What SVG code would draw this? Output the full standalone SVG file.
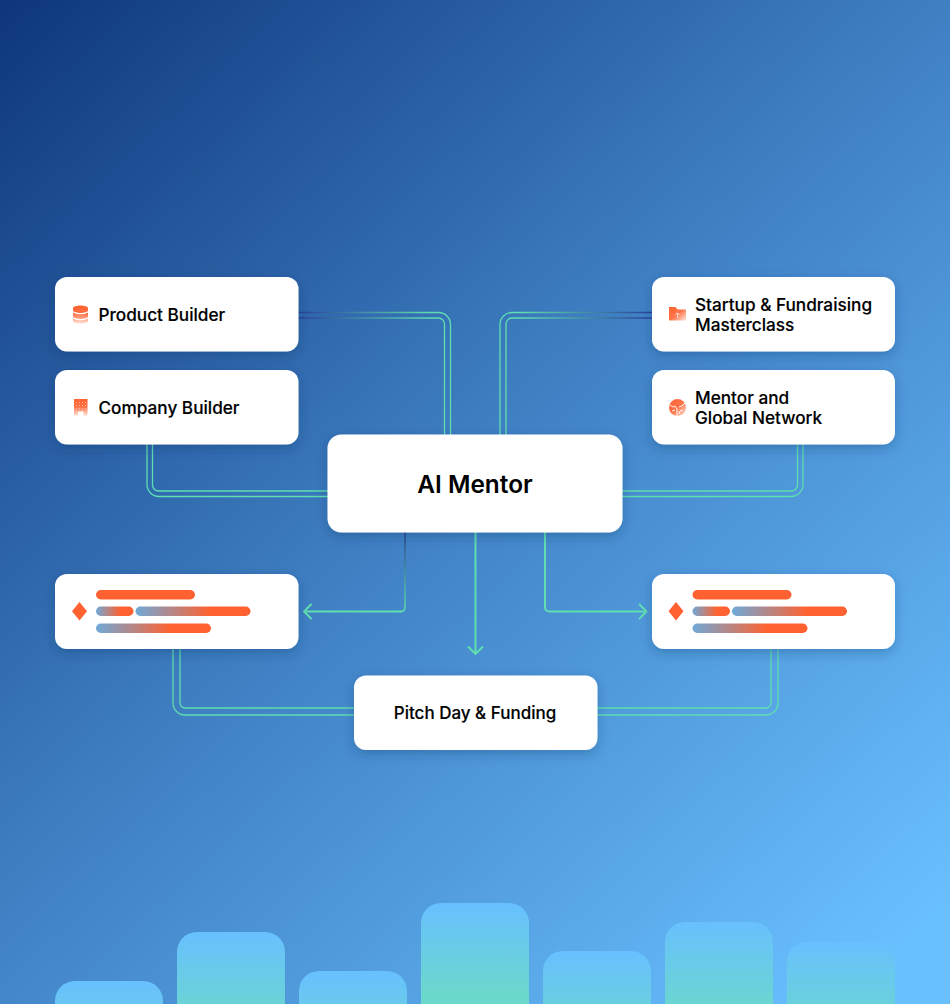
<svg xmlns="http://www.w3.org/2000/svg" width="950" height="1004" viewBox="0 0 950 1004">
<style>
.card{fill:#fff;filter:url(#sh)}
.t{font-family:Inter,"Liberation Sans",sans-serif;font-weight:500;font-size:17.200px;fill:#000;stroke:#000;stroke-width:.15px}
.l{fill:none;stroke-width:1.3}
.a{fill:none;stroke-width:2;stroke-linecap:round;stroke-linejoin:round}
.b{fill:url(#bar)}
</style>
<defs>
<linearGradient id="bg" gradientUnits="userSpaceOnUse" x1="0" y1="0" x2="900" y2="950"><stop offset="0" stop-color="#0e367c"/><stop offset=".5" stop-color="#3f80c3"/><stop offset="1" stop-color="#69c0ff"/></linearGradient>
<linearGradient id="bar" x1="0" y1="0" x2="0" y2="1"><stop offset="0" stop-color="#68c0ff"/><stop offset=".7" stop-color="#6bd8cc"/></linearGradient>
<linearGradient id="ic" x1="0" y1="0" x2="0" y2="1"><stop offset="0" stop-color="#ff6230"/><stop offset=".45" stop-color="#ff6e42"/><stop offset="1" stop-color="#ffe0d5"/></linearGradient>
<linearGradient id="ic2" x1="0" y1="0" x2="1" y2="1"><stop offset="0" stop-color="#ff6230"/><stop offset=".5" stop-color="#ff7449"/><stop offset="1" stop-color="#ffe5dc"/></linearGradient>
<linearGradient id="pill" x1="0" y1="0" x2="1" y2="0"><stop offset="0" stop-color="#6fa9d8"/><stop offset=".65" stop-color="#ff6230"/></linearGradient>
<linearGradient id="gL" gradientUnits="userSpaceOnUse" x1="298" y1="0" x2="430" y2="0"><stop offset="0" stop-color="#2a3f9a"/><stop offset="1" stop-color="#5fdeb0"/></linearGradient>
<linearGradient id="gR" gradientUnits="userSpaceOnUse" x1="652" y1="0" x2="520" y2="0"><stop offset="0" stop-color="#2a3f9a"/><stop offset="1" stop-color="#5fdeb0"/></linearGradient>
<linearGradient id="gD" gradientUnits="userSpaceOnUse" x1="0" y1="532" x2="0" y2="611"><stop offset="0" stop-color="#2a3f8a"/><stop offset="1" stop-color="#5fdeb0"/></linearGradient>
<filter id="sh" x="-15%" y="-30%" width="130%" height="170%"><feDropShadow dx="0" dy="4" stdDeviation="6" flood-color="#0b2a5e" flood-opacity=".28"/></filter>
</defs>
<rect id="background" width="950" height="1004" fill="url(#bg)"/>
<g id="bars">
<rect class="b" x="55" y="981" width="108" height="131" rx="20"/>
<rect class="b" x="177" y="932" width="108" height="131" rx="20"/>
<rect class="b" x="299" y="971" width="108" height="131" rx="20"/>
<rect class="b" x="421" y="903" width="108" height="131" rx="20"/>
<rect class="b" x="543" y="951" width="108" height="131" rx="20"/>
<rect class="b" x="665" y="922" width="108" height="131" rx="20"/>
<rect class="b" x="787" y="942" width="108" height="131" rx="20"/>
</g>
<g id="connectors">
<path class="l" stroke="url(#gL)" d="M298 312.500H438.500a12 12 0 0 1 12 12V435"/>
<path class="l" stroke="url(#gL)" d="M298 318H438.500a6 6 0 0 1 6 6V435"/>
<path class="l" stroke="url(#gR)" d="M652 312.500H512a12 12 0 0 0 -12 12V435"/>
<path class="l" stroke="url(#gR)" d="M652 318H512a6 6 0 0 0 -6 6V435"/>
<path class="l" stroke="#5fdeb0" d="M147 444V484.500a12 12 0 0 0 12 12H328"/>
<path class="l" stroke="#5fdeb0" d="M152.500 444V485a6 6 0 0 0 6 6H328"/>
<path class="l" stroke="#5fdeb0" d="M803 444V484.500a12 12 0 0 1 -12 12H622"/>
<path class="l" stroke="#5fdeb0" d="M797.500 444V485a6 6 0 0 1 -6 6H622"/>
<path class="l" stroke="#5fdeb0" d="M173 649V703a12 12 0 0 0 12 12H354"/>
<path class="l" stroke="#5fdeb0" d="M180 649V703a5 5 0 0 0 5 5H354"/>
<path class="l" stroke="#5fdeb0" d="M778 649V703a12 12 0 0 1 -12 12H597"/>
<path class="l" stroke="#5fdeb0" d="M771 649V703a5 5 0 0 1 -5 5H597"/>
<path class="a" stroke="url(#gD)" style="stroke-width:1.500" d="M405 532V607a4 4 0 0 1 -4 4.500"/>
<path class="a" stroke="#5fdeb0" d="M401 611.500H304M311 604.500L304 611.500L311 618.500"/>
<path class="a" stroke="#5fdeb0" d="M475.500 532V654M468.500 647L475.500 654L482.500 647"/>
<path class="a" stroke="#5fdeb0" d="M545 532V607.500a4 4 0 0 0 4 4H646.500M639.500 604.500L646.500 611.500L639.500 618.500"/>
</g>
<g id="product-builder">
<rect class="card" x="55" y="277" width="243.500" height="74.500" rx="12"/>
<path fill="url(#ic)" d="M73 308c0-1.500 4-2.500 7.500-2.500s7.500 1 7.500 2.500v2.500c0 1.500-4 2.500-7.500 2.500s-7.500-1-7.500-2.500zM73 312.500c2 1.300 5 1.800 7.500 1.800s5.500-.5 7.500-1.800v4c0 1.500-4 2.500-7.500 2.500s-7.500-1-7.500-2.500zM73 318.500c2 1.300 5 1.800 7.500 1.800s5.500-.5 7.500-1.800v2.500c0 1.500-4 2.500-7.500 2.500s-7.500-1-7.500-2.500z"/>
<text class="t" x="98.500" y="320.500">Product Builder</text>
</g>
<g id="company-builder">
<rect class="card" x="55" y="370" width="243.500" height="74.500" rx="12"/>
<path fill="url(#ic)" fill-rule="evenodd" d="M74 399h13.500v16.500H74zM78 411.500v4h5.500v-4z"/>
<path fill="none" stroke="#ffb9a2" stroke-width="1" stroke-dasharray="1 2" d="M76 402.500h10M76 405.500h10M76 408.500h10"/>
<text class="t" x="98.500" y="413.500">Company Builder</text>
</g>
<g id="startup-fundraising">
<rect class="card" x="652" y="277" width="243" height="74.500" rx="12"/>
<path fill="url(#ic2)" d="M669 307h6.500l2 2.500H686v11h-17z"/>
<path fill="none" stroke="#ffd9cc" stroke-width="1" d="M677.500 318v-5M675.300 315l2.200-2.200 2.200 2.200"/>
<text class="t" x="695" y="310.500">Startup &amp; Fundraising</text>
<text class="t" x="695" y="330.500">Masterclass</text>
</g>
<g id="mentor-network">
<rect class="card" x="652" y="370" width="243" height="74.500" rx="12"/>
<circle cx="677.500" cy="407.500" r="8.500" fill="url(#ic2)"/>
<path fill="none" stroke="#fff" stroke-width=".9" d="M670 405l3 2 2-1 2 3v7M685 403l-3 3-3 1M672 411l3-1M679 414l1-3 3-1"/>
<text class="t" x="695" y="403.500">Mentor and</text>
<text class="t" x="695" y="423.500">Global Network</text>
</g>
<g id="ai-mentor">
<rect class="card" x="327.500" y="434.500" width="295" height="98" rx="14"/>
<text class="t" x="475" y="492.500" text-anchor="middle" style="font-size:24.400px;font-weight:600;stroke-width:0">AI Mentor</text>
</g>
<g id="placeholder-left">
<rect class="card" x="55" y="574" width="243.500" height="75" rx="12"/>
<path fill="#ff6230" d="M79.500 602l7.500 9.200-7.500 9.300-7.500-9.300z"/>
<rect x="96" y="590" width="99" height="9.500" rx="4.750" fill="#ff6230"/>
<rect x="96" y="606.500" width="37.500" height="9.500" rx="4.750" fill="url(#pill)"/>
<rect x="135.500" y="606.500" width="115" height="9.500" rx="4.750" fill="url(#pill)"/>
<rect x="96" y="623.500" width="115" height="9.500" rx="4.750" fill="url(#pill)"/>
</g>
<g id="placeholder-right">
<rect class="card" x="652" y="574" width="243" height="75" rx="12"/>
<path fill="#ff6230" d="M676 602l7.500 9.200-7.500 9.300-7.500-9.300z"/>
<rect x="692.500" y="590" width="99" height="9.500" rx="4.750" fill="#ff6230"/>
<rect x="692.500" y="606.500" width="37.500" height="9.500" rx="4.750" fill="url(#pill)"/>
<rect x="732" y="606.500" width="115" height="9.500" rx="4.750" fill="url(#pill)"/>
<rect x="692.500" y="623.500" width="115" height="9.500" rx="4.750" fill="url(#pill)"/>
</g>
<g id="pitch-day">
<rect class="card" x="354" y="675.500" width="243.500" height="74.500" rx="12"/>
<text class="t" x="475" y="718.500" text-anchor="middle" style="font-size:17px">Pitch Day &amp; Funding</text>
</g>
</svg>
